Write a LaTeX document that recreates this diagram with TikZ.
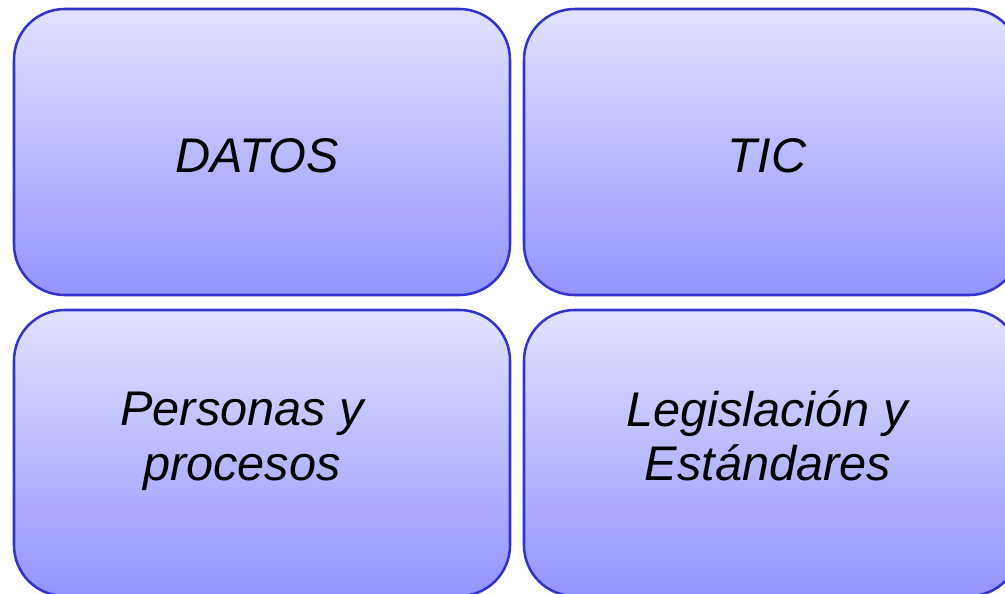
\documentclass[tikz,border=0pt]{standalone}
\usepackage{fontspec}
\setmainfont{Liberation Sans}
\begin{document}
\begin{tikzpicture}[x=0.75pt,y=-0.75pt,
  box/.style={draw=boxline, line width=1.9pt, rounded corners=38pt,
    top color=boxtop, bottom color=boxbot, minimum width=372pt, minimum height=214.5pt,
    inner sep=0pt},
  txt/.style={anchor=base, inner sep=0pt, font=\itshape\fontsize{36.5pt}{40pt}\selectfont}]
\definecolor{boxline}{HTML}{3333CC}
\definecolor{boxtop}{HTML}{E2E2FF}
\definecolor{boxbot}{HTML}{9393FF}
\useasboundingbox (0,0) rectangle (1005,593);
\clip (0,0) rectangle (1005,593);
\node[box] (datos) at (262,152) {};
\node[box] (tic) at (772,152) {};
\node[box] (personas) at (262,453) {};
\node[box] (legis) at (772,453) {};
\node[txt] (tdatos) at (257,172) {DATOS};
\node[txt] (ttic) at (767,172) {TIC};
\node[txt] (tpers1) at (242,425) {Personas y};
\node[txt] (tpers2) at (242,480) {procesos};
\node[txt] (tleg1) at (767,426) {Legislación y};
\node[txt] (tleg2) at (768,480) {Estándares};
\end{tikzpicture}
\end{document}
